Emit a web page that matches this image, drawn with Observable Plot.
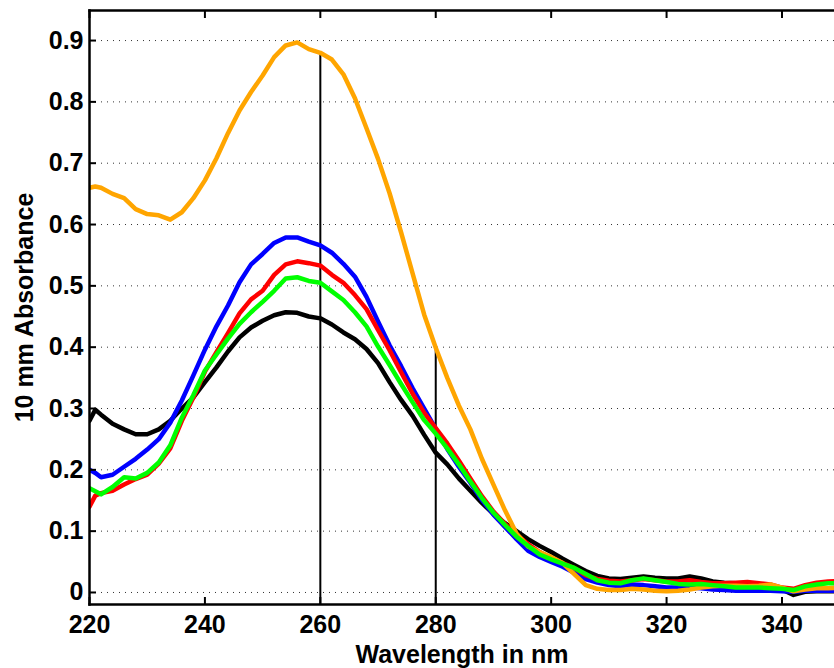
<!DOCTYPE html>
<html>
<head>
<meta charset="utf-8">
<script src="https://cdn.jsdelivr.net/npm/d3@7"></script>
<script src="https://cdn.jsdelivr.net/npm/@observablehq/plot@0.6"></script>
<style>
  html, body { margin: 0; padding: 0; background: #fff; }
  #chart { width: 834px; height: 668px; overflow: hidden; }
</style>
</head>
<body>
<div id="chart"></div>
<script>
const wavelengths = [220,221,222,224,226,228,230,232,234,236,238,240,242,244,246,248,250,252,254,256,258,260,262,264,266,268,270,272,274,276,278,280,282,284,286,288,290,292,294,296,298,300,302,304,306,308,310,312,314,316,318,320,322,324,326,328,330,332,334,336,338,340,342,344,346,348,350];

const orangeSeries = [0.660,0.662,0.660,0.650,0.643,0.625,0.617,0.615,0.608,0.620,0.643,0.672,0.708,0.749,0.786,0.816,0.843,0.873,0.892,0.897,0.886,0.880,0.869,0.845,0.806,0.757,0.707,0.651,0.587,0.520,0.453,0.399,0.350,0.305,0.266,0.218,0.176,0.134,0.096,0.075,0.066,0.058,0.048,0.030,0.012,0.006,0.004,0.004,0.006,0.005,0.003,0.002,0.003,0.005,0.008,0.010,0.011,0.011,0.010,0.011,0.013,0.008,0.002,0.005,0.007,0.007,0.008];

const blueSeries = [0.200,0.195,0.188,0.192,0.205,0.218,0.233,0.250,0.277,0.313,0.354,0.396,0.434,0.468,0.506,0.535,0.552,0.570,0.579,0.579,0.572,0.566,0.554,0.536,0.515,0.482,0.442,0.403,0.369,0.333,0.300,0.267,0.234,0.205,0.179,0.151,0.127,0.107,0.087,0.068,0.058,0.050,0.042,0.032,0.022,0.016,0.012,0.010,0.013,0.012,0.010,0.008,0.008,0.008,0.007,0.005,0.004,0.003,0.003,0.003,0.003,0.002,0.001,0.003,0.003,0.003,0.003];

const redSeries = [0.140,0.158,0.162,0.166,0.176,0.185,0.192,0.210,0.235,0.280,0.318,0.360,0.392,0.423,0.455,0.478,0.492,0.518,0.535,0.540,0.537,0.533,0.518,0.505,0.485,0.462,0.428,0.395,0.359,0.324,0.293,0.268,0.243,0.215,0.186,0.157,0.132,0.112,0.094,0.079,0.066,0.056,0.048,0.040,0.028,0.022,0.019,0.018,0.020,0.022,0.020,0.018,0.018,0.020,0.017,0.015,0.015,0.016,0.017,0.015,0.013,0.008,0.006,0.012,0.016,0.018,0.019];

const greenSeries = [0.170,0.165,0.160,0.172,0.188,0.186,0.195,0.212,0.240,0.285,0.322,0.362,0.388,0.414,0.438,0.457,0.474,0.492,0.512,0.514,0.508,0.505,0.491,0.477,0.457,0.434,0.401,0.371,0.340,0.310,0.281,0.259,0.235,0.209,0.181,0.154,0.130,0.110,0.091,0.076,0.062,0.054,0.047,0.040,0.030,0.020,0.016,0.015,0.020,0.023,0.020,0.017,0.014,0.013,0.014,0.012,0.010,0.008,0.008,0.008,0.007,0.006,0.004,0.010,0.013,0.015,0.015];

const blackSeries = [0.280,0.298,0.290,0.275,0.266,0.258,0.258,0.266,0.280,0.300,0.318,0.343,0.367,0.393,0.416,0.432,0.443,0.452,0.457,0.456,0.450,0.447,0.437,0.424,0.413,0.397,0.374,0.343,0.314,0.288,0.257,0.228,0.209,0.186,0.166,0.146,0.128,0.113,0.100,0.087,0.076,0.066,0.055,0.045,0.035,0.027,0.023,0.022,0.024,0.026,0.024,0.023,0.023,0.026,0.023,0.018,0.016,0.015,0.015,0.013,0.010,0.005,-0.004,0.001,0.002,0.002,0.002];

const seriesNames = ["Sample 1", "Sample 2", "Sample 3", "Sample 4", "Sample 5"];
const seriesColors = ["#000000", "#0000ff", "#ff0000", "#ffa500", "#00ff00"];
const seriesValues = [blackSeries, blueSeries, redSeries, orangeSeries, greenSeries];

const markerWavelengths = [260, 280];
const markerTops = [0.880, 0.399];

const xTicks = [220, 240, 260, 280, 300, 320, 340];
const yTicks = [0, 0.1, 0.2, 0.3, 0.4, 0.5, 0.6, 0.7, 0.8, 0.9];
const yTickLabels = ["0", "0.1", "0.2", "0.3", "0.4", "0.5", "0.6", "0.7", "0.8", "0.9"];

const xDomain = [220, 349.1];
const yDomain = [-0.0196, 0.949];

const rows = [];
seriesNames.forEach((name, s) => {
  wavelengths.forEach((w, i) => rows.push({series: name, wl: w, abs: seriesValues[s][i]}));
});
const markers = markerWavelengths.map((w, i) => ({wl: w, top: markerTops[i]}));

const font = "Liberation Sans, Arial, Helvetica, sans-serif";

const chart = Plot.plot({
  width: 834,
  height: 668,
  marginLeft: 89,
  marginRight: 0,
  marginTop: 10,
  marginBottom: 64,
  style: {fontFamily: font, fontSize: "25px", fontWeight: "bold", color: "#000", background: "#fff"},
  x: {domain: xDomain},
  y: {domain: yDomain},
  color: {domain: seriesNames, range: seriesColors},
  marks: [
    Plot.gridY(yTicks, {stroke: "#000", strokeOpacity: 0.8, strokeWidth: 1, strokeDasharray: "1,5"}),
    Plot.ruleX(markers, {x: "wl", y1: yDomain[0], y2: "top", stroke: "#000", strokeWidth: 2}),
    Plot.line(rows, {x: "wl", y: "abs", z: "series", stroke: "series", strokeWidth: 4.5, clip: true}),
    Plot.axisX(xTicks, {anchor: "bottom", tickSize: 0, tickPadding: 11, fontSize: 25, label: "Wavelength in nm", labelArrow: "none", labelAnchor: "center", labelOffset: 58}),
    Plot.axisX(xTicks, {anchor: "bottom", tickSize: 7, dy: -7, tickFormat: () => "", label: null, strokeWidth: 2}),
    Plot.axisX(xTicks, {anchor: "top", tickSize: 7, dy: 7, tickFormat: () => "", label: null, strokeWidth: 2}),
    Plot.axisY(yTicks, {anchor: "left", tickSize: 0, tickPadding: 6, fontSize: 25, tickFormat: (d, i) => yTickLabels[i], label: "10 mm Absorbance", labelArrow: "none", labelAnchor: "center", labelOffset: 74}),
    Plot.axisY(yTicks, {anchor: "left", tickSize: 7, dx: 7, tickFormat: () => "", label: null, strokeWidth: 2}),
    Plot.frame({anchor: "left", strokeWidth: 2.5}),
    Plot.frame({anchor: "top", strokeWidth: 2.5}),
    Plot.frame({anchor: "bottom", strokeWidth: 2.5})
  ]
});
document.getElementById("chart").appendChild(chart);
</script>
</body>
</html>
